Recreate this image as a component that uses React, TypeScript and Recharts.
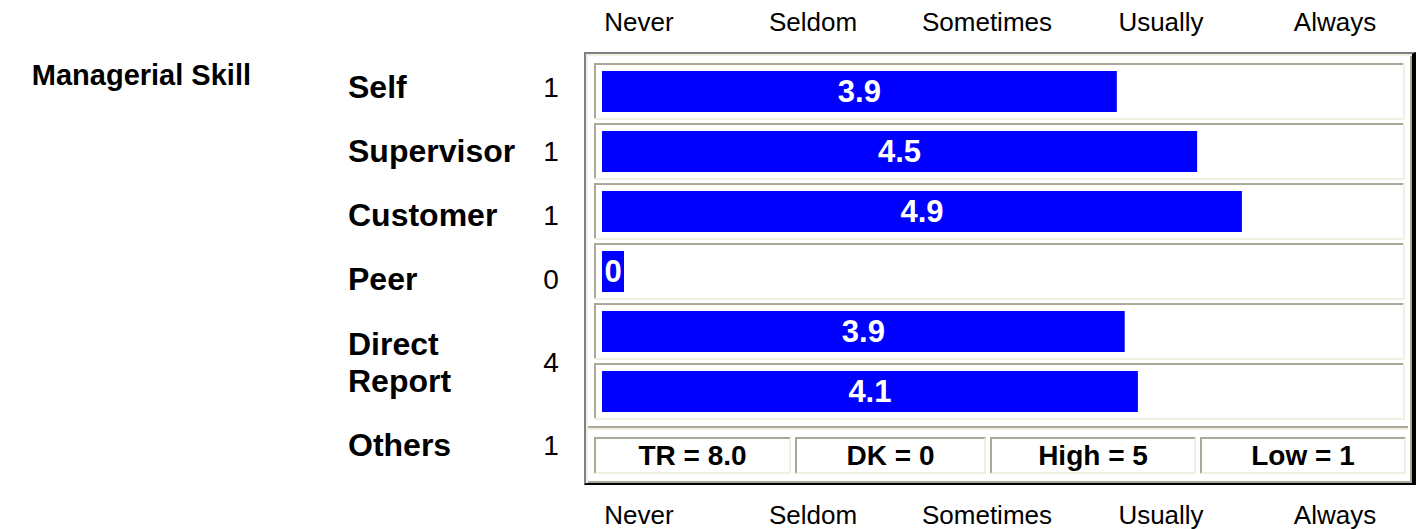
import React from "react";
import { BarChart, Bar, XAxis, YAxis, LabelList } from "recharts";

const competency = "Managerial Skill";
const raterGroups = ["Self", "Supervisor", "Customer", "Peer", "Direct Report", "Others"];
const raterCounts = [1, 1, 1, 0, 4, 1];
const meanScores = [3.91, 4.52, 4.86, 0, 3.97, 4.07];
const scoreLabels = ["3.9", "4.5", "4.9", "0", "3.9", "4.1"];
const ratingScale = ["Never", "Seldom", "Sometimes", "Usually", "Always"];
const ratingTicks = [0, 1, 2, 3, 4];
const summaryNames = ["TR", "DK", "High", "Low"];
const summaryValues = ["8.0", "0", "5", "1"];

const data = raterGroups.map((name, i) => ({
  name,
  count: raterCounts[i],
  score: meanScores[i],
  label: scoreLabels[i],
}));

const FONT = '"Liberation Sans", Arial, Helvetica, sans-serif';
const GRAY = "#aca899";
const LIGHT = "#f1efe2";
const BLUE = "#0000ff";
const MIN_BAR = 22;

const labelLines = (name: string) => (name.includes(" ") ? name.split(" ") : [name]);
const rowHeight = (name: string) => 26 + 38 * labelLines(name).length;

const GroupTick = (props: any) => {
  const { index, payload } = props;
  let top = 55;
  for (let i = 0; i < index; i++) top += rowHeight(raterGroups[i]);
  const h = rowHeight(raterGroups[index]);
  const cy = top + h / 2;
  const lines = labelLines(String(payload.value));
  const lh = 37;
  const start = cy - ((lines.length - 1) * lh) / 2;
  return (
    <g>
      {lines.map((ln, k) => (
        <text
          key={k}
          x={348}
          y={start + k * lh}
          dominantBaseline="central"
          fontFamily={FONT}
          fontWeight="bold"
          fontSize={32}
          fill="#000"
        >
          {ln}
        </text>
      ))}
      <text
        x={551}
        y={cy}
        textAnchor="middle"
        dominantBaseline="central"
        fontFamily={FONT}
        fontSize={28}
        fill="#000"
      >
        {raterCounts[index]}
      </text>
    </g>
  );
};

const ScaleTick = (props: any) => {
  const { x, y, payload, shift } = props;
  return (
    <text
      x={x}
      y={y + shift}
      textAnchor="middle"
      dominantBaseline="central"
      fontFamily={FONT}
      fontSize={26}
      fill="#000"
    >
      {ratingScale[payload.value]}
    </text>
  );
};

const RowBox = (props: any) => {
  const { x, y, width, height } = props;
  const left = x - 8;
  const top = y - 8;
  const right = x + width + 13;
  const bottom = y + height + 8;
  const w = right - left;
  const h = bottom - top;
  return (
    <g>
      <rect x={left} y={top} width={w} height={h} fill="#fff" />
      <rect x={left} y={top} width={w} height={2} fill={GRAY} />
      <rect x={left} y={top} width={2} height={h} fill={GRAY} />
      <rect x={left} y={bottom - 2} width={w} height={2} fill={LIGHT} />
      <rect x={right - 2} y={top} width={2} height={h} fill={LIGHT} />
    </g>
  );
};

const BarShape = (props: any) => {
  const { x, y, width, height } = props;
  return <rect x={x} y={y} width={Math.max(width, MIN_BAR)} height={height} fill={BLUE} />;
};

const ValueLabel = (props: any) => {
  const { x, y, width, height, value } = props;
  const w = Math.max(Number(width), MIN_BAR);
  return (
    <text
      x={Number(x) + w / 2}
      y={Number(y) + Number(height) / 2}
      textAnchor="middle"
      dominantBaseline="central"
      fontFamily={FONT}
      fontWeight="bold"
      fontSize={31}
      fill="#fff"
    >
      {value}
    </text>
  );
};

const cellWidths = [197, 191, 206, 206];

export default function App() {
  return (
    <div style={{ position: "absolute", left: 0, top: 0, width: 1417, height: 529, background: "#fff", fontFamily: FONT }}>
      <div
        style={{
          position: "absolute",
          left: 0,
          top: 60,
          width: 251,
          height: 30,
          lineHeight: "30px",
          textAlign: "right",
          fontWeight: "bold",
          fontSize: 29,
          color: "#000",
        }}
      >
        {competency}
      </div>
      <div
        style={{
          position: "absolute",
          left: 584,
          top: 52,
          width: 832,
          height: 433,
          boxSizing: "border-box",
          borderTop: "2px solid #808080",
          borderLeft: "2px solid #808080",
          borderRight: "4px solid #000",
          borderBottom: "2px solid #000",
          background: "#fff",
          boxShadow: `inset 2px 2px 0 ${LIGHT}, inset -2px -2px 0 ${GRAY}`,
        }}
      />
      <div style={{ position: "absolute", left: 588, top: 426, width: 820, height: 2, background: GRAY }} />
      <div style={{ position: "absolute", left: 588, top: 428, width: 820, height: 2, background: LIGHT }} />
      <div style={{ position: "absolute", left: 594, top: 437, display: "flex", gap: 4 }}>
        {summaryNames.map((n, i) => (
          <div
            key={n}
            style={{
              width: cellWidths[i],
              height: 37,
              boxSizing: "border-box",
              borderTop: `2px solid ${GRAY}`,
              borderLeft: `2px solid ${GRAY}`,
              borderBottom: `2px solid ${LIGHT}`,
              borderRight: `2px solid ${LIGHT}`,
              display: "flex",
              alignItems: "center",
              justifyContent: "center",
              fontWeight: "bold",
              fontSize: 28,
              color: "#000",
            }}
          >
            {`${n} = ${summaryValues[i]}`}
          </div>
        ))}
      </div>
      <div style={{ position: "absolute", left: 0, top: 0 }}>
        <BarChart
          width={1417}
          height={529}
          data={data}
          layout="vertical"
          margin={{ top: 31, right: 25, bottom: 78, left: 0 }}
          barSize={41}
        >
          <XAxis xAxisId="main" type="number" domain={[0, 6]} hide height={0} />
          <XAxis
            xAxisId="top"
            orientation="top"
            type="number"
            domain={[0, 4]}
            ticks={ratingTicks}
            allowDataOverflow
            padding={{ left: 37, right: 57 }}
            height={30}
            tickSize={0}
            tickMargin={0}
            axisLine={false}
            tickLine={false}
            interval={0}
            tick={(p: any) => <ScaleTick {...p} shift={-39} />}
          />
          <XAxis
            xAxisId="bottom"
            orientation="bottom"
            type="number"
            domain={[0, 4]}
            ticks={ratingTicks}
            allowDataOverflow
            padding={{ left: 37, right: 57 }}
            height={30}
            tickSize={0}
            tickMargin={0}
            axisLine={false}
            tickLine={false}
            interval={0}
            tick={(p: any) => <ScaleTick {...p} shift={94} />}
          />
          <YAxis
            type="category"
            dataKey="name"
            width={602}
            axisLine={false}
            tickLine={false}
            interval={0}
            tick={<GroupTick />}
          />
          <Bar
            xAxisId="main"
            dataKey="score"
            isAnimationActive={false}
            background={<RowBox />}
            shape={<BarShape />}
          >
            <LabelList dataKey="label" content={<ValueLabel />} />
          </Bar>
        </BarChart>
      </div>
    </div>
  );
}
